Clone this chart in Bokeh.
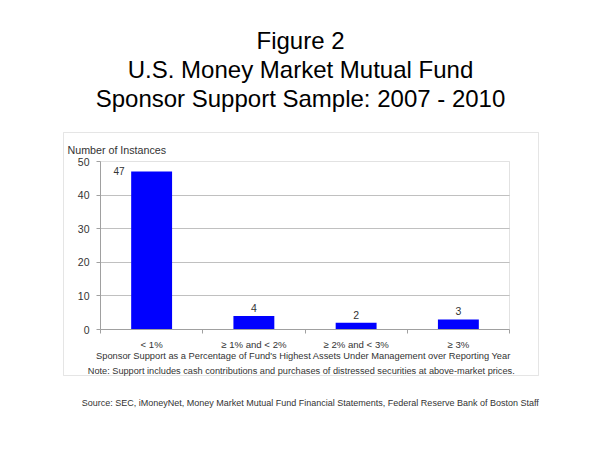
from bokeh.plotting import figure
from bokeh.models import Range1d, FixedTicker, Label, BoxAnnotation
from bokeh.embed import file_html
from bokeh.resources import INLINE

categories = ["< 1%", "\u2265 1% and < 2%", "\u2265 2% and < 3%", "\u2265 3%"]
instances = [47, 4, 2, 3]
y_ticks = [0, 10, 20, 30, 40, 50]

title_lines = ["Figure 2", "U.S. Money Market Mutual Fund", "Sponsor Support Sample: 2007 - 2010"]
y_title = "Number of Instances"
x_title = "Sponsor Support as a Percentage of Fund's Highest Assets Under Management over Reporting Year"
note = "Note:  Support includes cash contributions and purchases of distressed securities at above-market prices."
source = "Source:  SEC, iMoneyNet, Money Market Mutual Fund Financial Statements, Federal Reserve Bank of Boston Staff"

FONT = "Liberation Sans"
W, H = 600, 450
# frame (drawing area) in canvas pixels
FL, FB = 40, 30           # left / bottom borders reserved for the axis panels
# plot-area placement in canvas pixels
PL, PR, PT, PB = 100, 509, 161, 329

ncat = len(categories)
ymax = y_ticks[-1]
sx = (PR - PL) / ncat          # px per x unit
sy = (PB - PT) / ymax          # px per y unit
x_start = -(PL - FL) / sx
x_end = ncat + (W - PR) / sx
y_start = -((H - FB) - PB) / sy
y_end = ymax + PT / sy

p = figure(width=W, height=H, output_backend="svg", toolbar_location=None,
           x_range=Range1d(x_start, x_end), y_range=Range1d(y_start, y_end),
           min_border_left=FL, min_border_right=0, min_border_top=0,
           min_border_bottom=FB)
p.background_fill_color = "white"
p.border_fill_color = "white"
p.outline_line_color = None

# outer chart box
p.add_layout(BoxAnnotation(left=63, right=538, top=132, bottom=375,
                           left_units="canvas", right_units="canvas",
                           top_units="canvas", bottom_units="canvas",
                           fill_color=None, line_color="#a8a8a8", line_width=1,
                           level="underlay"))

# grid
p.xgrid.visible = False
p.ygrid.ticker = FixedTicker(ticks=y_ticks[1:-1])
p.ygrid.grid_line_color = "#c0c0c0"
try:
    p.ygrid.cross_bounds = (0, ncat)
except Exception:
    p.ygrid.visible = False
    p.segment(x0=0, x1=ncat, y0=y_ticks[1:-1], y1=y_ticks[1:-1], line_color="#c0c0c0")

# plot area border
p.add_layout(BoxAnnotation(left=0, right=ncat, bottom=0, top=ymax,
                           fill_color=None, line_color="#a0a0a0", line_width=1,
                           level="underlay"))

xs = [i + 0.5 for i in range(ncat)]
p.vbar(x=xs, top=instances, width=0.4, fill_color="#0000ff", line_color=None)

# y axis
ya = p.yaxis[0]
ya.fixed_location = 0
ya.bounds = (0, ymax)
ya.ticker = FixedTicker(ticks=y_ticks)
ya.axis_line_color = "#a0a0a0"
ya.major_tick_line_color = "#a0a0a0"
ya.major_tick_in = 0
ya.major_tick_out = 4
ya.minor_tick_line_color = None
ya.major_label_text_font = FONT
ya.major_label_text_font_size = "10.5px"
ya.major_label_text_color = "#333333"
ya.major_label_standoff = 7

# x axis
xa = p.xaxis[0]
xa.fixed_location = 0
xa.bounds = (0, ncat)
xa.ticker = FixedTicker(ticks=xs, minor_ticks=list(range(ncat + 1)))
xa.major_label_overrides = {x: c for x, c in zip(xs, categories)}
xa.axis_line_color = "#a0a0a0"
xa.major_tick_line_color = None
xa.major_tick_in = 0
xa.major_tick_out = 0
xa.minor_tick_line_color = "#a0a0a0"
xa.minor_tick_in = 0
xa.minor_tick_out = 4
xa.major_label_text_font = FONT
xa.major_label_text_font_size = "9.6px"
xa.major_label_text_color = "#333333"
xa.major_label_standoff = 5

# value labels
for x, v in zip(xs, instances):
    if v > ymax - 6:
        p.add_layout(Label(x=x, y=v, text=str(v), x_offset=-27, y_offset=1,
                           text_align="right", text_baseline="middle",
                           text_font=FONT, text_font_size="10px", text_color="#333333"))
    else:
        p.add_layout(Label(x=x, y=v, text=str(v), y_offset=4,
                           text_align="center", text_baseline="bottom",
                           text_font=FONT, text_font_size="10.5px", text_color="#333333"))

def canvas_label(x, y, text, size, align="center", color="#1a1a1a"):
    p.add_layout(Label(x=x, y=y, x_units="canvas", y_units="canvas", text=text,
                       text_align=align, text_baseline="alphabetic",
                       text_font=FONT, text_font_size=size, text_color=color))

canvas_label(300, 40, title_lines[0], "24px", color="black")
canvas_label(300, 69, title_lines[1], "24px", color="black")
canvas_label(300, 98, title_lines[2], "24px", color="black")
canvas_label(67, 149, y_title, "10.7px", "left", "#333333")
canvas_label(303, 355, x_title, "9.3px", color="#333333")
canvas_label(302, 370, note, "9.2px", color="#333333")
canvas_label(311, 402, source, "9px", color="#333333")

open("out.html", "w").write(file_html(p, INLINE))
